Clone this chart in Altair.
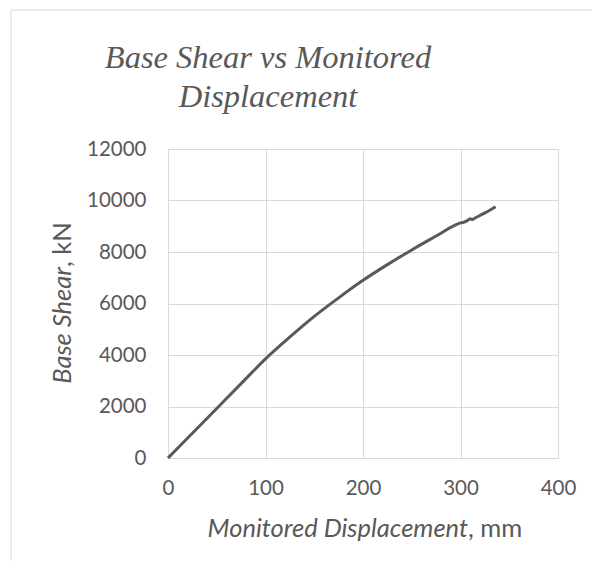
import altair as alt
import pandas as pd

# Data
disp = [0, 25, 50, 75, 100, 125, 150, 175, 200, 225, 250, 275, 295, 300, 303, 307, 310, 312, 315, 322, 330, 336]
shear = [0, 960, 1925, 2890, 3850, 4700, 5500, 6220, 6900, 7510, 8080, 8620, 9050, 9130, 9150, 9220, 9290, 9260, 9320, 9460, 9620, 9760]

x_ticks = [0, 100, 200, 300, 400]
y_ticks = [0, 2000, 4000, 6000, 8000, 10000, 12000]

title_lines = ["Base Shear vs Monitored", "Displacement"]
top_text = "struktur arah X"
x_title_main = "Monitored Displacement"
x_title_unit = ", mm"
y_title_main = "Base Shear"
y_title_unit = ", kN"

df = pd.DataFrame({"disp": disp, "shear": shear})
one = pd.DataFrame({"a": [0]})

GRAY = "#595959"
GRID = "#d9d9d9"
SANS = "Lato"
SERIF = "Liberation Serif"

line = alt.Chart(df).mark_line(color=GRAY, strokeWidth=3, interpolate="monotone").encode(
    x=alt.X("disp:Q", scale=alt.Scale(domain=[0, 400], nice=False),
            axis=alt.Axis(values=x_ticks, title=None, labelPadding=20, format="d",
                          labelFlush=False)),
    y=alt.Y("shear:Q", scale=alt.Scale(domain=[0, 12000], nice=False),
            axis=alt.Axis(values=y_ticks, title=None, labelPadding=22, format="d",
                          labelFlush=False)),
)

def txt(s, x, y, **kw):
    return alt.Chart(one).mark_text(text=s, **kw).encode(x=alt.value(x), y=alt.value(y))

title1 = txt(title_lines[0], 100, -81, font=SERIF, fontStyle="italic", fontSize=32.5,
             color=GRAY, align="center", baseline="alphabetic")
title2 = txt(title_lines[1], 100, -42, font=SERIF, fontStyle="italic", fontSize=32.5,
             color=GRAY, align="center", baseline="alphabetic")
top = txt(top_text, 98, -145, font=SERIF, fontWeight="bold", fontSize=24,
          color="#000000", align="center", baseline="alphabetic")

TS = 25.5
xt1 = txt(x_title_main, 300, 388, font=SANS, fontStyle="italic", fontSize=TS,
          color=GRAY, align="right", baseline="alphabetic")
xt2 = txt(x_title_unit, 300, 388, font=SANS, fontSize=TS,
          color=GRAY, align="left", baseline="alphabetic")
yt1 = txt(y_title_main, -97, 118, font=SANS, fontStyle="italic", fontSize=TS,
          color=GRAY, align="right", baseline="alphabetic", angle=270)
yt2 = txt(y_title_unit, -97, 118, font=SANS, fontSize=TS,
          color=GRAY, align="left", baseline="alphabetic", angle=270)

frame_v = alt.Chart(one).mark_rule(color=GRID, strokeWidth=1).encode(
    x=alt.value(-157), y=alt.value(-139), y2=alt.value(440))
frame_h = alt.Chart(one).mark_rule(color=GRID, strokeWidth=1).encode(
    x=alt.value(-157), x2=alt.value(460), y=alt.value(-139))

chart = alt.layer(frame_v, frame_h, line, title1, title2, top, xt1, xt2, yt1, yt2).properties(
    width=390, height=309,
    autosize=alt.AutoSizeParams(type="none"),
    padding={"left": 160, "top": 141, "right": 34, "bottom": 103},
).configure_view(stroke=None).configure_axis(
    grid=True, gridColor=GRID, gridWidth=1, domain=False, ticks=False,
    labelFont=SANS, labelFontSize=20.5, labelColor=GRAY,
)

chart.save("out.html", embed_options={"renderer": "svg", "actions": False})
